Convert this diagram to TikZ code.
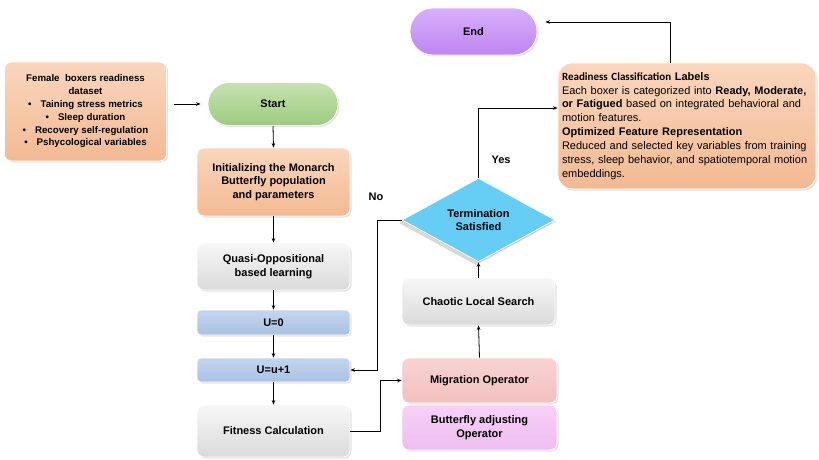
\documentclass[tikz,border=0pt]{standalone}
\usepackage{fontspec}
\setmainfont{Liberation Sans}
\newfontfamily\calfont{Carlito}
\usetikzlibrary{shapes.geometric,arrows.meta,shadows}
\definecolor{peachT}{HTML}{FAD6BD}
\definecolor{peachB}{HTML}{F3BA93}
\definecolor{greenT}{HTML}{C5E2B1}
\definecolor{greenB}{HTML}{9DCB7F}
\definecolor{purpT}{HTML}{D8B0FB}
\definecolor{purpB}{HTML}{BE85F2}
\definecolor{grayT}{HTML}{F7F7F7}
\definecolor{grayB}{HTML}{DADADA}
\definecolor{blueT}{HTML}{C4D6EE}
\definecolor{blueB}{HTML}{A9C1E3}
\definecolor{diaC}{HTML}{66CDF4}
\definecolor{migT}{HTML}{F9D3D3}
\definecolor{migB}{HTML}{F3BFBF}
\definecolor{bfT}{HTML}{F7D0F7}
\definecolor{bfB}{HTML}{EFBDF0}
\newcommand{\bul}{\textbullet\hspace{9pt}}
\tikzset{
  base/.style={align=center, font=\bfseries\fontsize{11}{13.5}\selectfont, draw=white, line width=0.8pt, inner sep=2pt,
     drop shadow={opacity=0.22, shadow xshift=1.5pt, shadow yshift=-1.5pt}},
  peachbox/.style={base, rounded corners=7pt, top color=peachT, bottom color=peachB},
  graybox/.style={base, rounded corners=7pt, top color=grayT, bottom color=grayB, minimum width=153pt},
  bluebox/.style={base, rounded corners=4pt, top color=blueT, bottom color=blueB, minimum width=153pt},
  arr/.style={-{Stealth[length=4.5pt,width=3.5pt]}, line width=0.8pt, black},
  lbl/.style={font=\bfseries\fontsize{11}{13.5}\selectfont}
}
\begin{document}
\begin{tikzpicture}[x=1pt,y=-1pt]
\useasboundingbox[fill=white] (0,0) rectangle (819,460);

% left column
\node[peachbox, minimum width=162pt, minimum height=99pt, font=\bfseries\fontsize{9.7}{12.8}\selectfont] (data) at (85.5,111.5)
  {Female\ \ boxers readiness\\dataset\\ \bul Taining stress metrics\\ \bul Sleep duration\\ \bul Recovery self-regulation\\ \bul Pshycological variables};
\node[base, rounded corners=21pt, top color=greenT, bottom color=greenB, minimum width=130pt, minimum height=43pt] (start) at (273,104) {Start};
\node[peachbox, minimum width=153pt, minimum height=68pt] (init) at (273.5,182) {Initializing the Monarch\\Butterfly population\\and parameters};
\node[graybox, minimum height=47pt] (qobl) at (273.5,266.5) {Quasi-Oppositional\\based learning};
\node[bluebox, minimum height=25pt] (u0) at (273.5,322.5) {U=0};
\node[bluebox, minimum height=24pt] (uu) at (273.5,370) {U=u+1};
\node[graybox, minimum height=52pt] (fit) at (273.5,431) {Fitness Calculation};

% middle column
\node[base, diamond, fill=diaC, minimum width=153pt, minimum height=70pt, inner sep=0pt, drop shadow={opacity=0.3, shadow xshift=-3pt, shadow yshift=-3pt}] (dia) at (478.5,220) {Termination\\Satisfied};
\node[graybox, minimum height=47pt] (chaos) at (478.5,301.5) {Chaotic Local Search};
\node[base, rounded corners=7pt, top color=migT, bottom color=migB, minimum width=155pt, minimum height=45pt] (mig) at (479.5,380.5) {Migration Operator};
\node[base, rounded corners=7pt, top color=bfT, bottom color=bfB, minimum width=155pt, minimum height=45pt] (bf) at (479.5,427.5) {Butterfly adjusting\\Operator};

% right
\node[base, rounded corners=23pt, top color=purpT, bottom color=purpB, minimum width=127pt, minimum height=47pt] (end) at (473.5,31.5) {End};
\node[peachbox, rounded corners=14pt, minimum width=256pt, minimum height=126pt, align=left, text width=250pt, inner sep=4pt, font=\fontsize{11}{13.9}\selectfont] (ready) at (687,126)
  {{\calfont\bfseries\fontsize{11}{13}\selectfont Readiness Classification} \textbf{Labels}\\
   Each boxer is categorized into \textbf{Ready, Moderate,}\\
   \textbf{or Fatigued} based on integrated behavioral and\\
   motion features.\\
   \textbf{Optimized Feature Representation}\\
   Reduced and selected key variables from training\\
   stress, sleep behavior, and spatiotemporal motion\\
   embeddings.};

% connectors
\draw[arr, shorten <=7pt, shorten >=7pt] (data.east |- start.west) -- (start.west);
\draw[arr] (start.south) -- (init.north);
\draw[arr] (init.south) -- (qobl.north);
\draw[arr] (qobl.south) -- (u0.north);
\draw[arr] (u0.south) -- (uu.north);
\draw[arr] (uu.south) -- (fit.north);
\draw[arr] (fit.east) -- ++(30,0) |- (mig.west);
\draw[arr] (mig.north) -- (chaos.south);
\draw[arr] (chaos.north) -- (dia.south);
\draw[arr] (dia.west) -- ([xshift=-24pt]dia.west) |- (uu.east);
\draw[arr] (dia.north) |- ([yshift=18pt]ready.west);
\draw[arr, shorten >=8pt] ([xshift=-17pt]ready.north) |- ([yshift=9.5pt]end.east);

\node[lbl] (no) at (376,197) {No};
\node[lbl] (yes) at (501,160) {Yes};
\end{tikzpicture}
\end{document}
